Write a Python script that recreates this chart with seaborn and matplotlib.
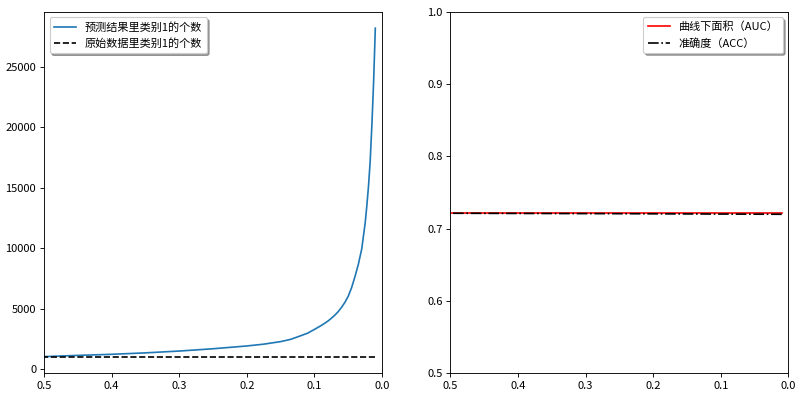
import matplotlib
matplotlib.use("Agg")
import matplotlib.pyplot as plt
import seaborn as sns
import numpy as np

plt.rcParams['font.family'] = ['Noto Sans CJK SC', 'DejaVu Sans']
plt.rcParams['axes.unicode_minus'] = False
plt.rcParams['font.size'] = 10

# thresholds (x) and counts
thresholds = [0.50, 0.45, 0.40, 0.35, 0.30, 0.25, 0.20, 0.175, 0.15, 0.135,
              0.125, 0.11, 0.10, 0.095, 0.09, 0.085, 0.08, 0.075, 0.07, 0.065,
              0.06, 0.055, 0.05, 0.045, 0.04, 0.035, 0.03, 0.025, 0.0225, 0.02,
              0.0175, 0.015, 0.0125, 0.01]
pred_count = [1050, 1150, 1240, 1360, 1510, 1700, 1930, 2080, 2290, 2480,
              2680, 2990, 3300, 3460, 3620, 3800, 3990, 4220, 4470, 4760,
              5120, 5530, 6050, 6760, 7680, 8700, 9980, 12100, 13550, 15200,
              17300, 20300, 23800, 28200]
orig_count = [1020] * len(thresholds)

auc_vals = [0.7212] * len(thresholds)
acc_thresholds = [0.50, 0.25, 0.01]
acc_vals = [0.7214, 0.7208, 0.7200]

labels_left = ['预测结果里类别1的个数', '原始数据里类别1的个数']
labels_right = ['曲线下面积（AUC）', '准确度（ACC）']

fig, (ax1, ax2) = plt.subplots(1, 2, figsize=(804 / 80, 397 / 80), dpi=80)
fig.subplots_adjust(left=0.0547, right=0.9807, bottom=0.0594, top=0.9705, wspace=0.202)

sns.lineplot(x=thresholds, y=pred_count, ax=ax1, color='#1f77b4', linewidth=1.5,
             label=labels_left[0])
sns.lineplot(x=thresholds, y=orig_count, ax=ax1, color='black', linestyle='--',
             linewidth=1.5, label=labels_left[1])
ax1.set_xlim(0.5, 0.0)
ax1.legend(loc='upper left', shadow=True)

sns.lineplot(x=thresholds, y=auc_vals, ax=ax2, color='red', linewidth=1.5,
             label=labels_right[0])
sns.lineplot(x=acc_thresholds, y=acc_vals, ax=ax2, color='black', linestyle='-.',
             linewidth=1.5, label=labels_right[1])
ax2.set_xlim(0.5, 0.0)
ax2.set_ylim(0.5, 1.0)
ax2.legend(loc='upper right', shadow=True)

for ax in (ax1, ax2):
    ax.set_xlabel('')
    ax.set_ylabel('')

fig.savefig('out.png', dpi=80)
